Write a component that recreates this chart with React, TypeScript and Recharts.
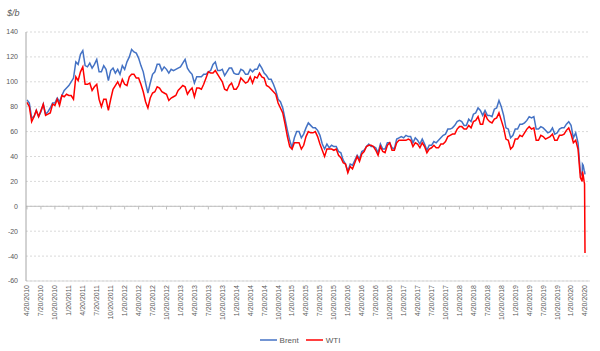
import {
  CartesianGrid,
  Legend,
  Line,
  LineChart,
  ReferenceLine,
  XAxis,
  YAxis,
} from "recharts";

// Prix du pétrole, relevés à peu près deux fois par mois (le 20 puis le 5),
// de 4/20/2010 à 3/20/2020..
const brent2010 = [85.5, 83, 71, 72, 77, 72, 76, 82, 74, 76, 79, 83, 83, 87, 84, 89, 93, 95];
const wti2010 = [83.5, 80, 68, 72, 77, 72, 77, 82, 73, 74, 75, 82, 81, 86, 81, 89, 88, 90];

const brent2011 = [97, 100, 103, 116, 114, 122, 125, 113, 112, 115, 111, 114, 118, 108, 108, 113, 110, 101, 109, 111, 107, 110, 106, 113];
const wti2011 = [89, 89, 86, 104, 101, 108, 112, 98, 98, 99, 93, 96, 98, 86, 80, 86, 86, 77, 86, 94, 97, 100, 96, 102];

const brent2012 = [110, 116, 120, 126, 124, 123, 119, 113, 108, 99, 91, 99, 106, 108, 114, 114, 109, 112, 110, 107, 110, 109, 110, 111];
const wti2012 = [98, 97, 104, 106, 106, 103, 103, 98, 92, 84, 79, 87, 91, 92, 96, 95, 92, 91, 90, 85, 87, 88, 89, 93];

const brent2013 = [112, 115, 118, 111, 108, 106, 99, 104, 104, 104, 106, 106, 108, 109, 114, 116, 109, 109, 110, 105, 108, 111, 111, 107];
const wti2013 = [95, 97, 96, 90, 93, 95, 88, 95, 95, 94, 98, 103, 108, 107, 107, 109, 106, 103, 100, 94, 93, 97, 99, 94];

const brent2014 = [106, 106, 110, 109, 106, 106, 110, 108, 110, 110, 114, 111, 107, 105, 102, 102, 98, 93, 86, 84, 79, 70, 61, 53];
const wti2014 = [94, 97, 103, 101, 99, 100, 104, 99, 104, 103, 107, 104, 103, 97, 96, 94, 92, 90, 83, 79, 75, 66, 56, 48];

const brent2015 = [47, 55, 60, 60, 55, 58, 63, 67, 65, 63, 63, 61, 57, 50, 46, 50, 47, 49, 48, 48, 44, 43, 37, 34];
const wti2015 = [46, 51, 51, 51, 46, 49, 56, 60, 59, 59, 60, 56, 50, 45, 40, 46, 46, 46, 45, 46, 41, 39, 35, 34];

const brent2016 = [28, 34, 33, 37, 41, 38, 44, 45, 48, 50, 48, 48, 47, 43, 50, 46, 46, 51, 51, 47, 46, 54, 55, 56];
const wti2016 = [27, 32, 30, 35, 40, 36, 42, 44, 48, 49, 49, 48, 45, 41, 48, 44, 43, 49, 51, 45, 45, 51, 53, 53];

const brent2017 = [55, 57, 56, 56, 51, 55, 53, 50, 54, 50, 45, 49, 49, 52, 51, 53, 55, 57, 58, 62, 62, 63, 65, 68];
const wti2017 = [53, 53, 54, 53, 48, 51, 50, 47, 51, 48, 43, 46, 47, 49, 47, 47, 50, 50, 52, 56, 57, 58, 58, 62];

const brent2018 = [69, 68, 65, 65, 70, 68, 74, 75, 79, 77, 73, 77, 73, 73, 72, 78, 79, 85, 80, 73, 63, 62, 55, 57];
const wti2018 = [64, 64, 62, 62, 65, 63, 68, 69, 72, 66, 66, 74, 70, 68, 67, 70, 71, 75, 69, 63, 54, 53, 46, 48];

const brent2019 = [62, 62, 66, 66, 67, 69, 72, 71, 72, 62, 62, 64, 63, 61, 59, 60, 63, 58, 59, 62, 63, 63, 66, 68];
const wti2019 = [54, 54, 57, 56, 59, 62, 64, 62, 63, 53, 53, 57, 56, 54, 55, 56, 58, 53, 53, 57, 57, 58, 61, 63];

const brent2020 = [65, 55, 59, 51, 27];
const wti2020 = [58, 51, 53, 46, 23];

// avril 2020, au jour près (jour du mois)
const aprilDays = [1, 3, 8, 14, 17, 20];
const aprilBrent = [25, 34, 33, 29, 28, 25.6];
const aprilWti = [20, 28, 25, 20, 18, -37.6];

const tickLabels = [
  "4/20/2010", "7/20/2010", "10/20/2010",
  "1/20/2011", "4/20/2011", "7/20/2011", "10/20/2011",
  "1/20/2012", "4/20/2012", "7/20/2012", "10/20/2012",
  "1/20/2013", "4/20/2013", "7/20/2013", "10/20/2013",
  "1/20/2014", "4/20/2014", "7/20/2014", "10/20/2014",
  "1/20/2015", "4/20/2015", "7/20/2015", "10/20/2015",
  "1/20/2016", "4/20/2016", "7/20/2016", "10/20/2016",
  "1/20/2017", "4/20/2017", "7/20/2017", "10/20/2017",
  "1/20/2018", "4/20/2018", "7/20/2018", "10/20/2018",
  "1/20/2019", "4/20/2019", "7/20/2019", "10/20/2019",
  "1/20/2020", "4/20/2020",
];

const yTicks = [-60, -40, -20, 0, 20, 40, 60, 80, 100, 120, 140];

const SERIES = [
  { key: "brent", name: "Brent", color: "#4472C4" },
  { key: "wti", name: "WTI", color: "#FF0000" },
];

const FONT = "'Liberation Sans', Arial, sans-serif";
const TEXT = "#595959";

// x = mois écoulés depuis 4/20/2010
const brent = [
  ...brent2010, ...brent2011, ...brent2012, ...brent2013, ...brent2014,
  ...brent2015, ...brent2016, ...brent2017, ...brent2018, ...brent2019, ...brent2020,
];
const wti = [
  ...wti2010, ...wti2011, ...wti2012, ...wti2013, ...wti2014,
  ...wti2015, ...wti2016, ...wti2017, ...wti2018, ...wti2019, ...wti2020,
];
const data = [
  ...brent.map((b, k) => ({ t: k / 2, brent: b, wti: wti[k] })),
  // 20 mars -> 20 avril = 31 jours
  ...aprilDays.map((d, i) => ({
    t: 119 + (11 + d) / 31,
    brent: aprilBrent[i],
    wti: aprilWti[i],
  })),
];
const xTicks = tickLabels.map((_, i) => i * 3);

function DateTick(props: any) {
  const { x, y, payload } = props;
  const label = tickLabels[Math.round(payload.value / 3)];
  return (
    <text
      x={x}
      y={y}
      transform={`rotate(-90 ${x} ${y})`}
      textAnchor="end"
      dy="0.35em"
      fontSize={7}
      fill={TEXT}
      fontFamily={FONT}
    >
      {label}
    </text>
  );
}

function renderLegend() {
  return (
    <div
      style={{
        display: "flex",
        justifyContent: "center",
        alignItems: "center",
        gap: 7,
        height: 14,
        fontSize: 8,
        color: TEXT,
        fontFamily: FONT,
      }}
    >
      {SERIES.map((s) => (
        <span key={s.key} style={{ display: "flex", alignItems: "center", gap: 3 }}>
          <svg width={17} height={4}>
            <line x1={0} y1={2} x2={17} y2={2} stroke={s.color} strokeWidth={1.5} />
          </svg>
          {s.name}
        </span>
      ))}
    </div>
  );
}

export default function App() {
  return (
    <div
      style={{
        position: "absolute",
        left: 0,
        top: 0,
        width: 600,
        height: 351,
        background: "#fff",
        fontFamily: FONT,
      }}
    >
      <div
        style={{
          position: "absolute",
          left: 7,
          top: 8,
          fontSize: 9,
          fontStyle: "italic",
          color: TEXT,
        }}
      >
        $/b
      </div>
      <LineChart
        width={600}
        height={351}
        data={data}
        margin={{ top: 32, right: 10, bottom: 4, left: 0 }}
      >
        <CartesianGrid vertical={false} stroke="#d9d9d9" strokeDasharray="2 2" />
        <XAxis
          dataKey="t"
          type="number"
          domain={[0, 120]}
          ticks={xTicks}
          interval={0}
          padding={{ left: 1, right: 5 }}
          height={52}
          axisLine={{ stroke: "#d9d9d9" }}
          tickLine={false}
          tickSize={4}
          tickMargin={0}
          tick={<DateTick />}
        />
        <XAxis
          xAxisId="top"
          orientation="top"
          dataKey="t"
          type="number"
          domain={[0, 120]}
          height={0}
          tick={false}
          tickLine={false}
          axisLine={{ stroke: "#d9d9d9" }}
        />
        <YAxis
          domain={[-60, 140]}
          ticks={yTicks}
          width={26}
          axisLine={{ stroke: "#a6a6a6" }}
          tickLine={false}
          tick={{ fontSize: 7, fill: TEXT, fontFamily: FONT }}
        />
        <YAxis
          yAxisId="right"
          orientation="right"
          domain={[-60, 140]}
          width={0}
          tick={false}
          tickLine={false}
          axisLine={{ stroke: "#d9d9d9" }}
        />
        <ReferenceLine y={0} stroke="#bfbfbf" />
        {xTicks.map((t) => (
          <ReferenceLine
            key={t}
            segment={[
              { x: t, y: 0 },
              { x: t, y: -2.5 },
            ]}
            stroke="#bfbfbf"
          />
        ))}
        {SERIES.map((s) => (
          <Line
            key={s.key}
            type="linear"
            dataKey={s.key}
            name={s.name}
            stroke={s.color}
            strokeWidth={1.5}
            dot={false}
            isAnimationActive={false}
          />
        ))}
        <Legend
          verticalAlign="bottom"
          content={renderLegend}
          wrapperStyle={{ left: 0, width: 600 }}
        />
      </LineChart>
    </div>
  );
}
